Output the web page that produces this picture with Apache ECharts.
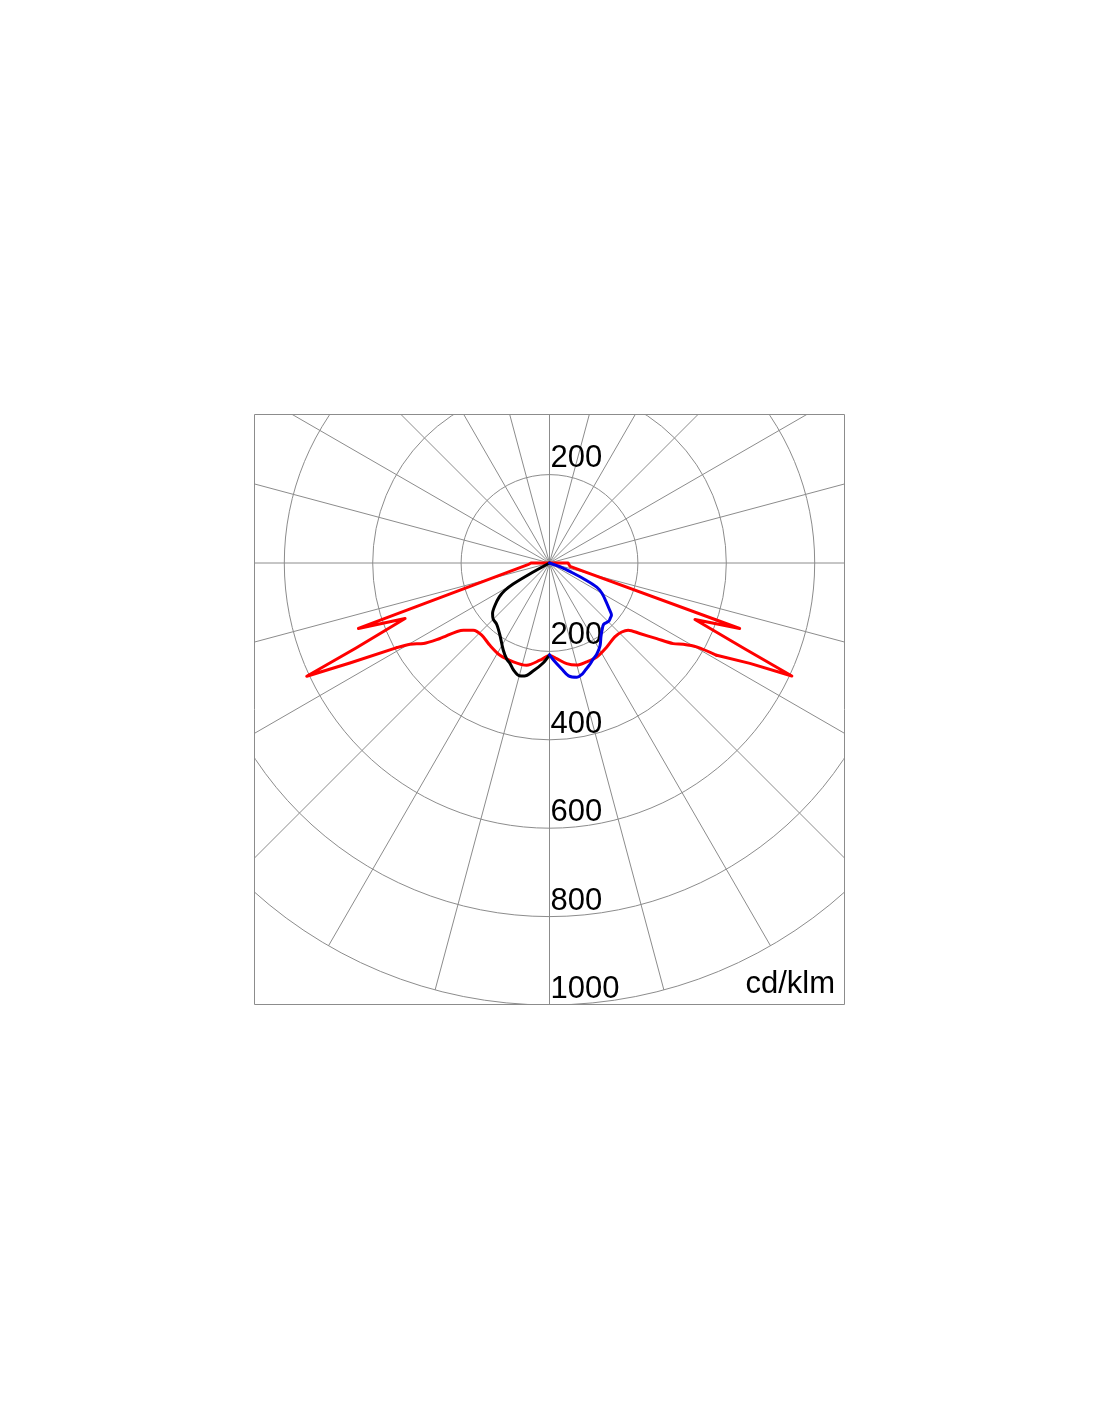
<!DOCTYPE html>
<html><head><meta charset="utf-8">
<script src="https://cdn.jsdelivr.net/npm/echarts@6/dist/echarts.min.js"></script>
<style>html,body{margin:0;padding:0;background:#fff}#c{width:1100px;height:1422px}</style>
</head><body><div id="c"></div>
<script>
// ---- data (cd/klm vs gamma angle from nadir, degrees) ----
const unitLabel = 'cd/klm';
const radiusMax = 1000;
const radiusStep = 200;
const angleStep = 15;

// red curve, left half (C180 side), gamma ascending
const redLeftAngles = [0, 5.6, 12.6, 20.1, 28.2, 35.9, 43.2, 48.6, 52.0, 55.4, 57.4, 59.8, 61.0, 63.4, 65.0, 66.3, 69.0, 71.1, 80.9, 85.5, 90];
const redLeftValues = [209, 221, 237, 238, 237, 230, 224, 230, 247, 301, 338, 365, 395, 505, 606, 478, 350, 457, 47, 49, 42];
// red curve, right half (C0 side)
const redRightAngles = [0, 4.3, 9.7, 14.9, 20.6, 26.7, 34.3, 41.5, 46.3, 49.5, 52.0, 54.8, 56.9, 58.7, 60.3, 61.1, 63.4, 65.0, 66.3, 68.8, 71.0, 80.9, 85.5, 90];
const redRightValues = [209, 217, 231, 239, 239, 238, 230, 223, 226, 234, 259, 297, 334, 354, 383, 432, 507, 605, 480, 353, 455, 47, 49, 42];
// black curve (left half)
const blackAngles = [0, 3.5, 8.8, 12.5, 15.0, 18.7, 21.5, 24.0, 28.0, 34.5, 40.8, 45.0, 48.5, 52.0, 56.0, 58.5, 60.0, 61.0, 62.0];
const blackValues = [208, 226, 248, 262, 264, 255, 244, 238, 223, 198, 183, 180, 172, 157, 137, 118, 95, 50, 0];
// blue curve (right half)
const blueAngles = [0, 2.2, 6.7, 9.6, 13.5, 16.0, 18.7, 21.7, 24.0, 27.5, 31.5, 35.0, 38.0, 41.5, 45.5, 47.5, 50.0, 52.5, 55.0, 60.0, 63.0, 65.0, 67.0, 70.0, 75.0];
const blueValues = [208, 219, 242, 259, 266, 263, 255, 247, 240, 232, 219, 203, 193, 185, 188, 186, 183, 170, 158, 137, 120, 88, 55, 30, 0];

// ---- build polar data [radius, angle] ----
function half(angles, values, sign) {
  return angles.map((a, i) => [values[i], sign * a]);
}
const wingFrom = 61; // gamma beyond which the red wings are drawn with sharp corners
const redLeft = half(redLeftAngles, redLeftValues, -1);
const redRight = half(redRightAngles, redRightValues, 1);
const redLeftCore = redLeft.filter(p => -p[1] <= wingFrom).reverse();
const redRightCore = redRight.filter(p => p[1] <= wingFrom + 0.2);
const redCore = redLeftCore.concat(redRightCore.slice(1));
const redLeftWing = [[0, -180]].concat(redLeft.filter(p => -p[1] >= wingFrom).reverse());
const redRightWing = redRight.filter(p => p[1] >= wingFrom + 0.1).concat([[0, 180]]);
const blackData = half(blackAngles, blackValues, -1).reverse();
const blueData = half(blueAngles, blueValues, 1);

const gridColor = '#8c8c8c';
const labelFont = { fontSize: 31, fontFamily: 'Liberation Sans, Arial, sans-serif', color: '#000' };
const C = [549.5, 563];
const R = 442;

function lineSeries(data, color, smooth, z) {
  return { type: 'line', coordinateSystem: 'polar', polarIndex: 0, data: data, showSymbol: false, symbol: 'none',
    smooth: smooth, lineStyle: { color: color, width: 3, join: 'round', cap: 'round' }, z: z };
}

const chart = echarts.init(document.getElementById('c'), null, { renderer: 'canvas' });
chart.setOption({
  animation: false,
  backgroundColor: '#fff',
  polar: [
    { center: C, radius: R },
    { center: C, radius: R }
  ],
  angleAxis: [
    {
      polarIndex: 0, type: 'value', min: -180, max: 180, interval: angleStep,
      startAngle: 90, clockwise: false,
      axisLine: { show: false }, axisTick: { show: false }, axisLabel: { show: false },
      splitLine: { show: true, lineStyle: { color: gridColor, width: 1 } }
    },
    {
      polarIndex: 1, type: 'value', min: 0, max: 360, interval: angleStep,
      startAngle: 270, clockwise: false,
      axisLine: { show: false }, axisTick: { show: false }, axisLabel: { show: false },
      splitLine: { show: false }
    }
  ],
  radiusAxis: [
    {
      polarIndex: 0, type: 'value', min: 0, max: radiusMax, interval: radiusStep,
      axisLine: { show: false }, axisTick: { show: false },
      splitLine: { show: true, lineStyle: { color: gridColor, width: 1 } },
      axisLabel: Object.assign({
        margin: 0, align: 'left', verticalAlign: 'bottom', lineHeight: 31, padding: [0, 0, 1, 1],
        formatter: v => (v === radiusStep ? String(v) : '')
      }, labelFont)
    },
    {
      polarIndex: 1, type: 'value', min: 0, max: radiusMax, interval: radiusStep,
      axisLine: { show: false }, axisTick: { show: false }, splitLine: { show: false },
      axisLabel: Object.assign({
        margin: 0, align: 'left', verticalAlign: 'bottom', lineHeight: 31, padding: [0, 0, 0, 1],
        formatter: v => (v === 0 ? '' : String(v))
      }, labelFont)
    }
  ],
  series: [
    lineSeries(redLeftWing, '#ff0000', false, 3),
    lineSeries(redCore, '#ff0000', 0.3, 3),
    lineSeries(redRightWing, '#ff0000', false, 3),
    lineSeries(blackData, '#000000', 0.3, 4),
    lineSeries(blueData, '#0000e6', 0.3, 4)
  ],
  graphic: [
    { type: 'rect', z: 100, silent: true, shape: { x: 0, y: 0, width: 1100, height: 414 }, style: { fill: '#fff' } },
    { type: 'rect', z: 100, silent: true, shape: { x: 0, y: 1005, width: 1100, height: 417 }, style: { fill: '#fff' } },
    { type: 'rect', z: 100, silent: true, shape: { x: 0, y: 0, width: 254, height: 1422 }, style: { fill: '#fff' } },
    { type: 'rect', z: 100, silent: true, shape: { x: 845, y: 0, width: 255, height: 1422 }, style: { fill: '#fff' } },
    { type: 'rect', z: 101, silent: true, shape: { x: 254.5, y: 414.5, width: 590, height: 590 },
      style: { fill: 'none', stroke: gridColor, lineWidth: 1 } },
    { type: 'text', z: 102, silent: true, x: 835, y: 984,
      style: { text: unitLabel, fill: '#000', font: '31px "Liberation Sans", Arial, sans-serif', textAlign: 'right', textVerticalAlign: 'middle' } }
  ]
});
</script>
</body></html>
